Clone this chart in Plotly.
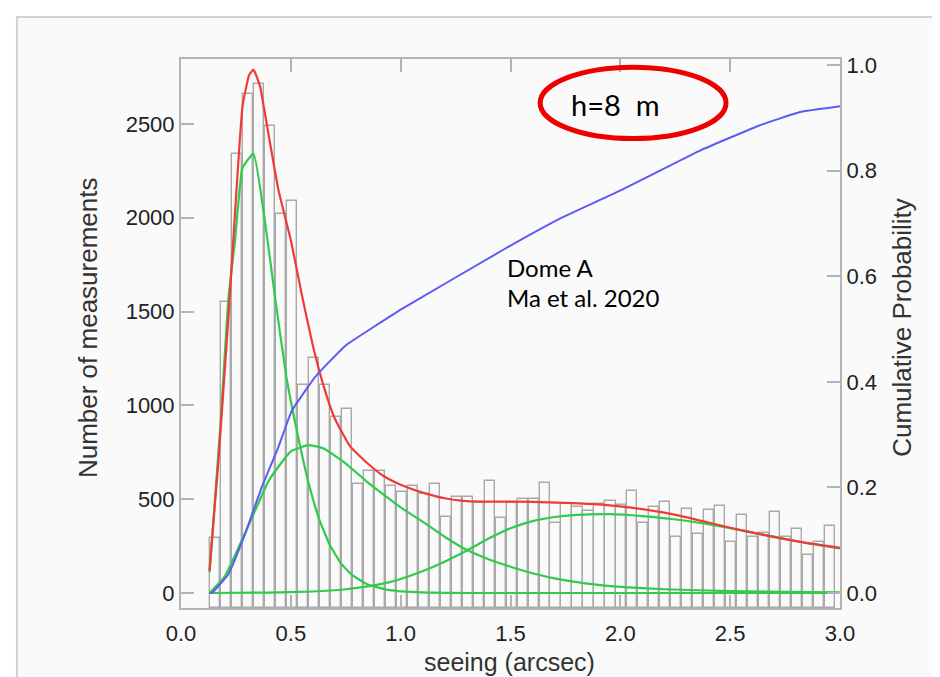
import plotly.graph_objects as go

# ---------------- data ----------------
bin_centers = [0.155, 0.205, 0.255, 0.305, 0.355, 0.405, 0.455, 0.505, 0.555, 0.605,
               0.655, 0.705, 0.755, 0.805, 0.855, 0.905, 0.955, 1.005, 1.055, 1.105,
               1.155, 1.205, 1.255, 1.305, 1.355, 1.405, 1.455, 1.505, 1.555, 1.605,
               1.655, 1.705, 1.755, 1.805, 1.855, 1.905, 1.955, 2.005, 2.055, 2.105,
               2.155, 2.205, 2.255, 2.305, 2.355, 2.405, 2.455, 2.505, 2.555, 2.605,
               2.655, 2.705, 2.755, 2.805, 2.855, 2.905, 2.955]
counts = [295, 1550, 2340, 2660, 2715, 2490, 2020, 2090, 1110, 1255,
          1110, 940, 980, 582, 652, 651, 572, 540, 570, 530,
          581, 403, 512, 510, 480, 599, 401, 480, 501, 501,
          585, 372, 476, 456, 438, 476, 490, 470, 541, 374,
          460, 483, 300, 446, 313, 440, 462, 273, 415, 300,
          322, 432, 300, 340, 200, 270, 355]

fit_x = [0.13, 0.17, 0.215, 0.25, 0.28, 0.31, 0.33, 0.36, 0.38, 0.443, 0.5, 0.55,
         0.6, 0.65, 0.7, 0.77, 0.85, 0.92, 1.0, 1.1, 1.2, 1.3, 1.45, 1.6, 1.75,
         1.9, 2.05, 2.2, 2.35, 2.5, 2.65, 2.8, 3.0]
fit_total = [120, 700, 1455, 2100, 2594, 2760, 2790, 2700, 2570, 2152, 1880, 1590,
             1320, 1100, 930, 781, 690, 625, 577, 535, 505, 490, 487, 486, 480,
             472, 455, 428, 390, 348, 310, 276, 240]

comp1_x = [0.13, 0.18, 0.215, 0.246, 0.28, 0.33, 0.38, 0.43, 0.48, 0.53, 0.58, 0.63,
           0.68, 0.73, 0.78, 0.85, 0.95, 1.1, 1.3, 2.0, 3.0]
comp1_y = [110, 900, 1560, 1880, 2265, 2342, 2000, 1560, 1150, 850, 590, 390,
           250, 155, 95, 45, 15, 3, 0, 0, 0]

comp2_x = [0.13, 0.2, 0.3, 0.4, 0.5, 0.58, 0.65, 0.75, 0.85, 0.95, 1.0, 1.1, 1.2,
           1.3, 1.4, 1.5, 1.6, 1.7, 1.85, 2.0, 2.2, 2.5, 3.0]
comp2_y = [0, 90, 340, 600, 755, 788, 770, 690, 590, 500, 456, 380, 300,
           230, 180, 140, 105, 78, 50, 33, 20, 10, 3]

comp3_x = [0.13, 0.4, 0.6, 0.75, 0.85, 0.95, 1.05, 1.15, 1.3, 1.4, 1.5, 1.6, 1.7,
           1.8, 1.95, 2.1, 2.3, 2.5, 2.7, 2.85, 3.0]
comp3_y = [0, 2, 8, 20, 35, 58, 95, 140, 225, 290, 345, 383, 405,
           416, 420, 410, 385, 345, 300, 265, 237]

cum_x = [0.13, 0.14, 0.215, 0.291, 0.367, 0.443, 0.504, 0.61, 0.747, 1.006, 1.475,
         1.725, 1.998, 2.363, 2.636, 2.818, 3.0]
cum_p = [0.0, 0.0, 0.035, 0.111, 0.2, 0.276, 0.345, 0.409, 0.468, 0.538, 0.652,
         0.709, 0.762, 0.838, 0.886, 0.911, 0.922]

x_ticks = [0.0, 0.5, 1.0, 1.5, 2.0, 2.5, 3.0]
y_ticks = [0, 500, 1000, 1500, 2000, 2500]
p_ticks = [0.0, 0.2, 0.4, 0.6, 0.8, 1.0]

# ---------------- figure ----------------
GREEN = "#2ecc4a"
RED = "#f03a3a"
BLUE = "#5a5cf5"
AXC = "#b4b4b4"
FONT = "Liberation Sans, Arial, sans-serif"
NOTE_FONT = "Lato, Carlito, sans-serif"
Y_MIN, Y_MAX = -80, 2846

fig = go.Figure()
fig.add_trace(go.Bar(x=bin_centers, y=[c - Y_MIN for c in counts], base=Y_MIN, width=0.046,
                     marker=dict(color="rgba(255,255,255,0)",
                                 line=dict(color="#a9a9a9", width=1.4)),
                     showlegend=False))
for xs, ys, col in [(comp1_x, comp1_y, GREEN), (comp2_x, comp2_y, GREEN),
                    (comp3_x, comp3_y, GREEN), (fit_x, fit_total, RED)]:
    fig.add_trace(go.Scatter(x=xs, y=ys, mode="lines",
                             line=dict(color=col, width=2.2, shape="spline", smoothing=0.4),
                             showlegend=False))
fig.add_trace(go.Scatter(x=cum_x, y=cum_p, mode="lines", yaxis="y2",
                         line=dict(color=BLUE, width=2, shape="spline", smoothing=0.3),
                         showlegend=False))

fig.update_layout(
    width=932, height=669,
    margin=dict(l=173, r=100, t=51, b=69),
    paper_bgcolor="white", plot_bgcolor="rgba(0,0,0,0)",
    font=dict(family=FONT, size=22, color="#222"),
    bargap=0,
    xaxis=dict(range=[0, 3], tickvals=x_ticks, ticktext=[f"{v:.1f}" for v in x_ticks],
               ticks="inside", ticklen=13, tickwidth=1.5, tickcolor=AXC,
               showline=True, linecolor=AXC, linewidth=2, mirror="ticks",
               showgrid=False, zeroline=False, ticklabelstandoff=5),
    yaxis=dict(range=[Y_MIN, Y_MAX], tickvals=y_ticks, ticks="inside", ticklen=13,
               tickwidth=1.5, tickcolor=AXC, showline=True, linecolor=AXC, linewidth=2,
               showgrid=False, zeroline=False),
    yaxis2=dict(range=[-0.0284, 1.0114], overlaying="y", side="right",
                tickvals=p_ticks, ticktext=[f"{v:.1f}" for v in p_ticks],
                ticks="inside", ticklen=13, tickwidth=1.5, tickcolor=AXC,
                showline=True, linecolor=AXC, linewidth=2,
                showgrid=False, zeroline=False),
)

# slide-like background frame
fig.add_shape(type="rect", xref="paper", yref="paper", x0=-0.249, x1=1.2, y0=-0.2, y1=1.0765,
              fillcolor="#fafafa", line=dict(color="#d2d2d2", width=2), layer="below")

# axis titles
fig.add_annotation(text="Number of measurements", xref="paper", yref="paper",
                   x=-0.141, y=0.51, xanchor="center", yanchor="middle",
                   textangle=-90, showarrow=False, font=dict(size=26, color="#333"))
fig.add_annotation(text="Cumulative Probability", xref="paper", yref="paper",
                   x=1.094, y=0.512, xanchor="center", yanchor="middle",
                   textangle=-90, showarrow=False, font=dict(size=26, color="#333"))
fig.add_annotation(text="seeing (arcsec)", xref="paper", yref="paper",
                   x=0.499, y=-0.098, xanchor="center", yanchor="middle",
                   showarrow=False, font=dict(size=25, color="#333"))

# notes
fig.add_shape(type="circle", xref="paper", yref="paper", x0=0.545, x1=0.827,
              y0=0.855, y1=0.985, line=dict(color="#ee0000", width=5))
fig.add_annotation(text="h=8  m", xref="paper", yref="paper", x=0.66, y=0.918,
                   xanchor="center", yanchor="middle", showarrow=False,
                   font=dict(family=NOTE_FONT, size=29, color="black"))
fig.add_annotation(text="Dome A", xref="paper", yref="paper", x=0.492, y=0.621,
                   xanchor="left", yanchor="middle", showarrow=False,
                   font=dict(family=NOTE_FONT, size=24, color="black"))
fig.add_annotation(text="Ma et al. 2020", xref="paper", yref="paper", x=0.492, y=0.565,
                   xanchor="left", yanchor="middle", showarrow=False,
                   font=dict(family=NOTE_FONT, size=24, color="black"))

fig.write_html("out.html")
